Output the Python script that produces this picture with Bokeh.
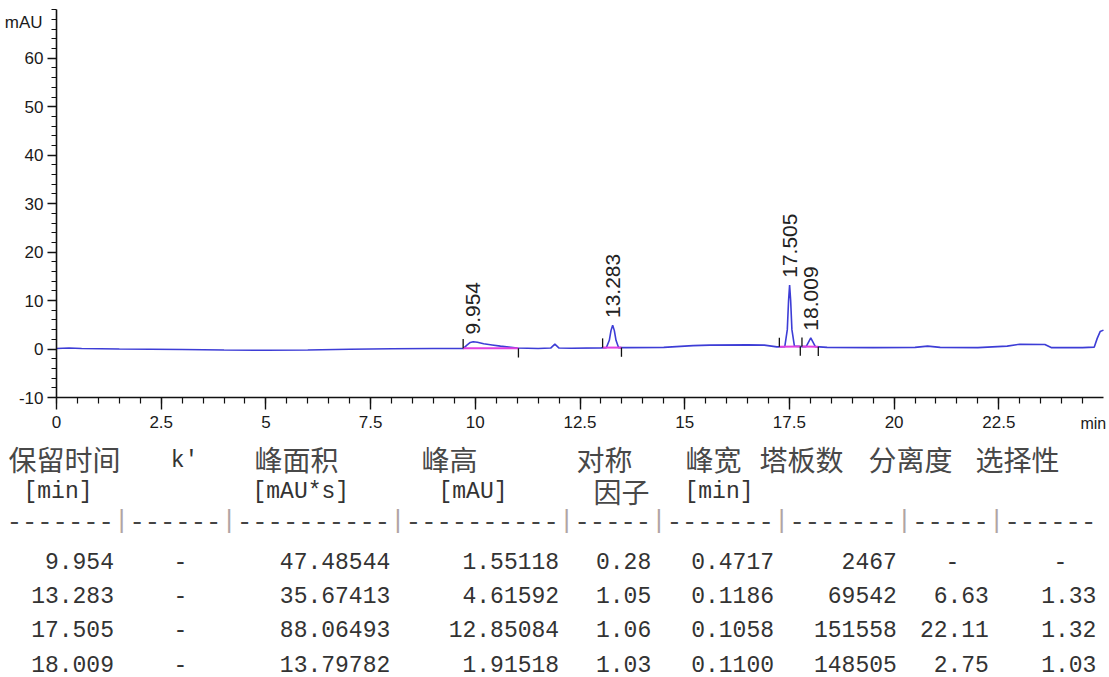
import numpy as np
from bokeh.plotting import figure
from bokeh.models import Range1d, FixedTicker, Label, LinearAxis
from bokeh.core.properties import value
from bokeh.embed import file_html
from bokeh.resources import INLINE

# ---------------- data ----------------
trace_t = [0.0, 0.3, 0.6, 1.5, 3.0, 4.0, 5.0, 6.0, 7.0, 8.0, 9.0, 9.71,
           9.80, 9.88, 9.95, 10.05, 10.20, 10.40, 10.60, 10.80, 11.00, 11.50,
           11.80, 11.90, 12.00, 12.30, 13.00, 13.13, 13.20, 13.24, 13.28, 13.32,
           13.36, 13.42, 13.60, 14.50, 15.20, 15.60, 16.50, 16.90, 17.20, 17.39,
           17.45, 17.48, 17.505, 17.53, 17.56, 17.62, 17.80, 17.90, 17.96, 18.01,
           18.06, 18.12, 18.40, 19.50, 20.50, 20.80, 21.10, 22.00, 22.70, 23.00,
           23.60, 23.75, 24.50, 24.78, 24.85, 24.92, 25.0]
trace_mau = [0.1, 0.2, 0.1, 0.0, -0.1, -0.2, -0.25, -0.2, -0.05, 0.05, 0.1, 0.1,
             0.8, 1.35, 1.5, 1.4, 1.1, 0.85, 0.6, 0.4, 0.2, 0.1,
             0.2, 1.0, 0.2, 0.15, 0.25, 0.3, 1.8, 3.8, 4.9, 3.8,
             1.8, 0.3, 0.3, 0.35, 0.7, 0.8, 0.85, 0.8, 0.45, 0.5,
             4.0, 10.0, 13.2, 10.0, 4.0, 0.6, 0.5, 0.5, 1.5, 2.3,
             1.5, 0.5, 0.35, 0.3, 0.35, 0.6, 0.35, 0.3, 0.6, 1.0,
             0.95, 0.3, 0.3, 0.4, 2.2, 3.6, 3.9]

peak_rt = [9.954, 13.283, 17.505, 18.009]
peak_label = ["9.954", "13.283", "17.505", "18.009"]
peak_apex = [1.5, 4.9, 13.2, 2.3]

int_start_t = [9.71, 13.04, 17.26, 17.80]
int_start_mau = [0.15, 0.3, 0.45, 0.5]
int_end_t = [11.03, 13.49, 17.76, 18.19]
int_end_mau = [0.15, 0.3, 0.5, 0.45]

x_ticks = [0, 2.5, 5, 7.5, 10, 12.5, 15, 17.5, 20, 22.5]
x_tick_labels = ["0", "2.5", "5", "7.5", "10", "12.5", "15", "17.5", "20", "22.5"]
y_ticks = [-10, 0, 10, 20, 30, 40, 50, 60]
y_tick_labels = ["-10", "0", "10", "20", "30", "40", "50", "60"]
x_unit = "min"
y_unit = "mAU"

headers = ["保留时间", "k'", "峰面积", "峰高", "对称", "峰宽", "塔板数", "分离度", "选择性"]
units = ["[min]", "", "[mAU*s]", "[mAU]", "因子", "[min]", "", "", ""]
ret_time = ["9.954", "13.283", "17.505", "18.009"]
k_prime = ["-", "-", "-", "-"]
area = ["47.48544", "35.67413", "88.06493", "13.79782"]
height = ["1.55118", "4.61592", "12.85084", "1.91518"]
symmetry = ["0.28", "1.05", "1.06", "1.03"]
width = ["0.4717", "0.1186", "0.1058", "0.1100"]
plates = ["2467", "69542", "151558", "148505"]
resolution = ["-", "6.63", "22.11", "2.75"]
selectivity = ["-", "1.33", "1.32", "1.03"]
dash_widths = [7, 6, 10, 10, 5, 7, 7, 5, 6]

# ---------------- geometry ----------------
W, H = 1109, 677
X0PX, PXMIN = 56.0, 41.88      # pixel of t=0, pixels per minute
YB_PX, PXMAU = 397.0, 4.846    # pixel of -10 mAU, pixels per mAU
x_range = Range1d(-X0PX / PXMIN, (W - X0PX) / PXMIN)
y_range = Range1d(-10 - (H - YB_PX) / PXMAU, -10 + YB_PX / PXMAU)

AXFONT = "Liberation Sans"

p = figure(width=W, height=H, x_range=x_range, y_range=y_range,
           output_backend="svg", toolbar_location=None, x_axis_type=None, y_axis_type=None,
           min_border_left=0, min_border_right=0, min_border_top=0, min_border_bottom=0,
           title=None)
p.outline_line_color = None
p.background_fill_color = "white"
p.border_fill_color = "white"
p.extra_x_ranges = {"px": Range1d(0, W)}
p.extra_y_ranges = {"py": Range1d(H, 0)}

xa = LinearAxis(fixed_location=-10, bounds=(0, 25))
xa.ticker = FixedTicker(ticks=x_ticks, minor_ticks=[i * 0.5 for i in range(50)])
xa.major_label_overrides = dict(zip(x_ticks, x_tick_labels))
ya = LinearAxis(fixed_location=0, bounds=(-10, 70))
ya.ticker = FixedTicker(ticks=y_ticks, minor_ticks=[-10 + 2 * i for i in range(41)])
ya.major_label_overrides = dict(zip(y_ticks, y_tick_labels))
for ax in (xa, ya):
    ax.axis_line_color = "#111111"
    ax.axis_line_width = 1.6
    ax.major_tick_line_color = "#111111"
    ax.minor_tick_line_color = "#111111"
    ax.major_tick_line_width = 1.4
    ax.minor_tick_line_width = 1.2
    ax.major_tick_in = 0
    ax.minor_tick_in = 0
    ax.major_label_text_font = AXFONT
    ax.major_label_text_font_size = "17px"
    ax.major_label_text_color = "#1a1a1a"
xa.major_tick_out = 12
xa.minor_tick_out = 6
xa.major_label_standoff = 6
ya.major_tick_out = 9
ya.minor_tick_out = 5
ya.major_label_standoff = 4
p.add_layout(xa, "below")
p.add_layout(ya, "left")

p.line(trace_t, trace_mau, line_color="#3d3dd6", line_width=1.6)
p.segment(x0=int_start_t, y0=int_start_mau, x1=int_end_t, y1=int_end_mau,
          line_color="#e040e0", line_width=2)
p.segment(x0=int_start_t, y0=int_start_mau, x1=int_start_t,
          y1=[v + 1.9 for v in int_start_mau], line_color="#111111", line_width=1.3)
p.segment(x0=int_end_t, y0=int_end_mau, x1=int_end_t,
          y1=[v - 1.9 for v in int_end_mau], line_color="#111111", line_width=1.3)
p.text(x=peak_rt, y=[a + 1.5 for a in peak_apex], text=peak_label, angle=np.pi / 2,
       text_align="left", text_baseline="middle", text_font=value("Liberation Sans"),
       text_font_size="21px", text_color="#222222")

p.add_layout(Label(x=-0.334, y=67.3, text=y_unit, text_align="right", text_baseline="middle",
                   text_font=AXFONT, text_font_size="17px", text_color="#1a1a1a"))
p.add_layout(Label(x=24.45, y=-15.4, text=x_unit, text_align="left", text_baseline="middle",
                   text_font=AXFONT, text_font_size="16px", text_color="#1a1a1a"))

# ---------------- results table (pixel ranges) ----------------
MONO = value("Liberation Mono")
CJK = value("Noto Sans CJK SC")
TXT = dict(x_range_name="px", y_range_name="py", text_baseline="middle")
pitch = 15.35
x0 = 6.0
hdr_y, unit_y, dash_y = 458, 491, 521
row_y = [560, 594, 628.5, 663]

hdr_left = [8, None, 254, 421, 576, 685, 759, 868, 975]
cj_x, cj_t = [], []
for h, xl in zip(headers, hdr_left):
    if xl is not None:
        cj_x.append(xl); cj_t.append(h)
p.text(x=cj_x, y=[hdr_y] * len(cj_x), text=cj_t, text_align="left",
       text_font=CJK, text_font_size="28px", text_color="#484848", **TXT)
p.text(x=[184], y=[hdr_y + 2], text=[headers[1]], text_align="center",
       text_font=MONO, text_font_size="23px", text_color="#333333", **TXT)

unit_left = [23, None, 252, 438, 593, 684, None, None, None]
mu_x, mu_t = [], []
for u, xl in zip(units, unit_left):
    if u and u != "因子":
        mu_x.append(xl); mu_t.append(u)
p.text(x=mu_x, y=[unit_y] * len(mu_x), text=mu_t, text_align="left",
       text_font=MONO, text_font_size="23px", text_color="#333333", **TXT)
p.text(x=[unit_left[4]], y=[unit_y - 1], text=[units[4]], text_align="left",
       text_font=CJK, text_font_size="28px", text_color="#484848", **TXT)

dx, dt, bx = [], [], []
c = 0
for i, n in enumerate(dash_widths):
    dx.append(x0 + (c + n / 2) * pitch); dt.append("-" * n)
    c += n
    if i < len(dash_widths) - 1:
        bx.append(x0 + (c + 0.5) * pitch)
        c += 1
p.text(x=dx, y=[dash_y] * len(dx), text=dt, text_align="center",
       text_font=MONO, text_font_size="25.5px", text_color="#444444", **TXT)
p.text(x=bx, y=[dash_y] * len(bx), text=["|"] * len(bx), text_align="center",
       text_font=MONO, text_font_size="25.5px", text_color="#b0a4a4", **TXT)

columns = [ret_time, k_prime, area, height, symmetry, width, plates, resolution, selectivity]
col_end_char = [6, 12, 24, 35, 41, 49, 57, 63, 70]
dash_center = [None, 180, None, None, None, None, None, 952, 1060]
rx, ry, rt_ = [], [], []
cx, cy, ct = [], [], []
for col, ec, dc in zip(columns, col_end_char, dash_center):
    for val, yy in zip(col, row_y):
        if val == "-":
            cx.append(dc); cy.append(yy); ct.append(val)
        else:
            rx.append(x0 + (ec + 1) * pitch); ry.append(yy); rt_.append(val)
p.text(x=rx, y=ry, text=rt_, text_align="right",
       text_font=MONO, text_font_size="23px", text_color="#333333", **TXT)
p.text(x=cx, y=cy, text=ct, text_align="center",
       text_font=MONO, text_font_size="23px", text_color="#333333", **TXT)

open("out.html", "w").write(file_html(p, INLINE))
